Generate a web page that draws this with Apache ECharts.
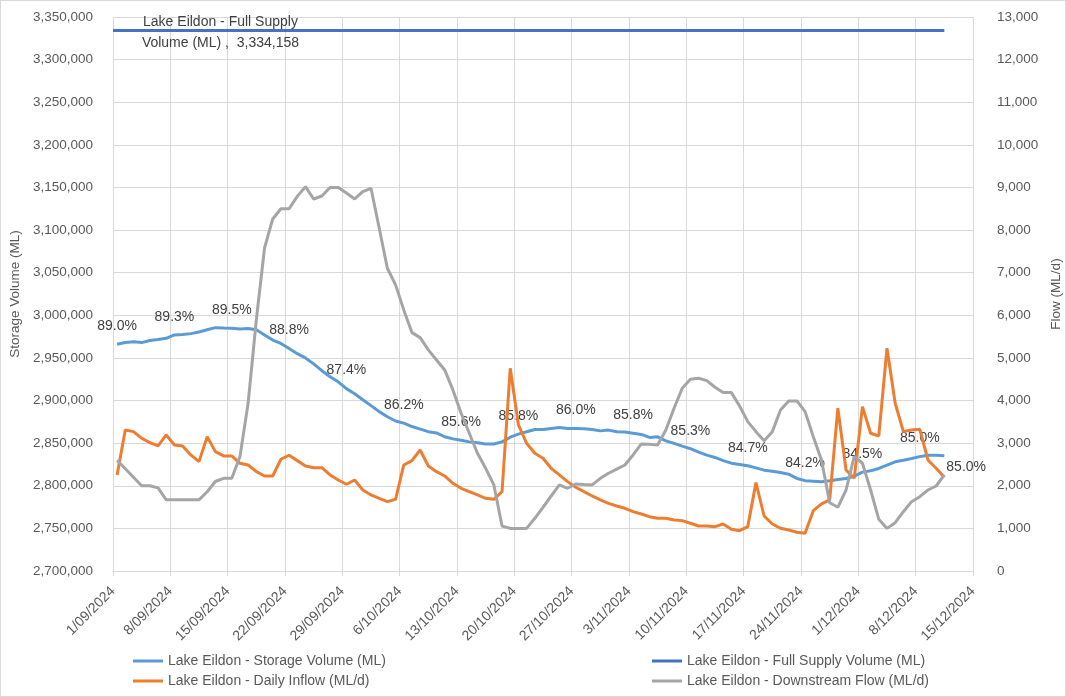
<!DOCTYPE html>
<html>
<head>
<meta charset="utf-8">
<script src="https://cdn.jsdelivr.net/npm/echarts@6/dist/echarts.min.js"></script>
<style>
html,body{margin:0;padding:0;background:#fff;}
#chart{width:1066px;height:697px;box-sizing:border-box;border:1px solid #d9d9d9;}
</style>
</head>
<body>
<div id="chart"></div>
<script>
// ---- DATA ----
const startDate = '2024-09-01';   // axis start (day 0)
const axisDays = 105;             // axis end: 15/12/2024
const tickDays = 7;               // weekly ticks
const readingHour = 12;           // daily readings taken at 12:00, first reading 1/09/2024
const FSV = 3334158;
const storage = [
2966000,2968000,2969000,2968000,2970500,2971500,2973000,2977000,2977500,2978500,
2980500,2983000,2985500,2985000,2984800,2984000,2984500,2983000,2977000,2971000,
2967000,2961000,2955000,2950000,2943000,2935000,2928000,2922000,2914000,2908000,
2901000,2894000,2887000,2881000,2876000,2873500,2869500,2866500,2863500,2862000,
2857500,2855000,2853500,2851500,2850500,2849000,2849000,2851500,2857000,2860600,
2863300,2866000,2866000,2867300,2868400,2867300,2867300,2866800,2866100,2864400,
2865300,2863300,2863000,2861500,2860200,2856700,2857400,2852700,2849700,2846500,
2843500,2839400,2835900,2833200,2829500,2826500,2825000,2823500,2821000,2818300,
2817100,2815600,2813600,2808600,2806000,2805400,2804600,2805800,2807400,2808600,
2811300,2816000,2817500,2820300,2824200,2828100,2830000,2832000,2834200,2835900,
2835900,2835100];
const inflow = [
2254,3310,3270,3115,3012,2934,3192,2958,2934,2723,
2566,3153,2801,2700,2700,2528,2488,2331,2230,2230,
2622,2716,2590,2465,2425,2425,2254,2136,2035,2136,
1900,1784,1706,1627,1683,2488,2590,2840,2465,2331,
2230,2058,1941,1862,1784,1706,1683,1862,4758,3427,
2997,2762,2645,2410,2254,2097,1965,1862,1761,1667,
1588,1526,1471,1392,1338,1275,1237,1237,1197,1182,
1120,1056,1056,1041,1103,978,946,1041,2074,1291,
1103,1001,962,908,884,1415,1573,1667,3819,2371,
2175,3857,3232,3169,5227,3937,3270,3310,3325,2606,
2410,2199];
const downstream = [
2600,2400,2200,2000,2000,1950,1670,1670,1670,1670,
1670,1860,2100,2175,2175,2680,3940,5890,7580,8260,
8500,8500,8790,9020,8730,8800,9000,9000,8870,8730,
8900,8980,8050,7105,6714,6127,5594,5477,5188,4953,
4718,4249,3701,3232,2762,2410,2019,1056,1000,1000,
1000,1237,1495,1760,2019,1941,2042,2030,2019,2175,
2293,2390,2488,2723,2981,2975,2958,3310,3819,4288,
4499,4523,4467,4312,4186,4186,3873,3505,3270,3059,
3270,3779,3991,3991,3740,3153,2606,1603,1495,1901,
2690,2528,1901,1213,1000,1134,1392,1627,1744,1901,
1995,2254];
const labelDays = [0,7,14,21,28,35,42,49,56,63,70,77,84,91,98,101];
const fsvLabelDay = 13;
const seriesNames = ['Lake Eildon - Storage Volume (ML)','Lake Eildon - Full Supply Volume (ML)','Lake Eildon - Daily Inflow (ML/d)','Lake Eildon - Downstream Flow (ML/d)'];

// ---- helpers ----
const DAY = 86400000;
const t0 = Date.parse(startDate + 'T00:00:00Z');
const dayLabel = d => {
  const dt = new Date(t0 + Math.round(d) * DAY);
  return dt.getUTCDate() + '/' + String(dt.getUTCMonth()+1).padStart(2,'0') + '/' + dt.getUTCFullYear();
};
const readingTime = i => i + readingHour / 24;   // days since axis start
const lastDay = storage.length - 1;
const fmt = v => Number(v).toLocaleString('en-US');
const FONT = 'Liberation Sans, Arial, sans-serif';
const TXT = '#595959';

const storageData = storage.map((v,i) => {
  if (!labelDays.includes(i)) return [readingTime(i), v];
  const isLast = i === lastDay;
  return {value: [readingTime(i), v], label: {
    show: true,
    formatter: (v/FSV*100).toFixed(1) + '%',
    position: isLast ? 'right' : 'top',
    distance: isLast ? 2 : 11,
    offset: isLast ? [0, 11] : [0, 0],
    color: '#404040', fontSize: 14, fontFamily: FONT
  }};
});
const inflowData = inflow.map((v,i) => [readingTime(i), v]);
const downstreamData = downstream.map((v,i) => [readingTime(i), v]);

const legendCommon = {orient: 'vertical', itemGap: 6, itemWidth: 30, itemHeight: 3, icon: 'rect', padding: 0,
  textStyle: {color: TXT, fontSize: 14, fontFamily: FONT}};

const chart = echarts.init(document.getElementById('chart'), null, {renderer:'canvas'});
chart.setOption({
  animation: false,
  backgroundColor: '#fff',
  textStyle: {fontFamily: FONT},
  grid: {left: 112, right: 92, top: 16, bottom: 125, containLabel: false, outerBoundsMode: 'none'},
  legend: [
    Object.assign({left: 132, top: 653, data: [seriesNames[0], seriesNames[2]]}, legendCommon),
    Object.assign({left: 651, top: 653, data: [seriesNames[1], seriesNames[3]]}, legendCommon)
  ],
  xAxis: {
    type: 'value', min: 0, max: axisDays, interval: tickDays,
    axisLine: {show: true, lineStyle: {color: '#d9d9d9'}},
    axisTick: {show: true, length: 5, lineStyle: {color: '#d9d9d9'}},
    axisLabel: {rotate: 45, color: TXT, fontSize: 14, fontFamily: FONT, margin: 18,
      formatter: v => dayLabel(v), showMinLabel: true, showMaxLabel: true},
    splitLine: {show: true, lineStyle: {color: '#d9d9d9'}}
  },
  yAxis: [
    {type: 'value', min: 2700000, max: 3350000, interval: 50000, position: 'left',
     name: 'Storage Volume (ML)', nameLocation: 'middle', nameGap: 83, nameRotate: 90,
     nameTextStyle: {color: TXT, fontSize: 13.5, fontFamily: FONT},
     axisLine: {show: false}, axisTick: {show: false},
     axisLabel: {color: TXT, fontSize: 13.5, fontFamily: FONT, formatter: fmt, margin: 20},
     splitLine: {show: true, lineStyle: {color: '#d9d9d9'}}},
    {type: 'value', min: 0, max: 13000, interval: 1000, position: 'right',
     name: 'Flow (ML/d)', nameLocation: 'middle', nameGap: 62, nameRotate: 90,
     nameTextStyle: {color: TXT, fontSize: 13.5, fontFamily: FONT},
     axisLine: {show: false}, axisTick: {show: false},
     axisLabel: {color: TXT, fontSize: 13.5, fontFamily: FONT, formatter: fmt, margin: 24},
     splitLine: {show: false}}
  ],
  series: [
    {name: seriesNames[0], type: 'line', yAxisIndex: 0, data: storageData,
     symbol: 'circle', symbolSize: 0, showSymbol: true, showAllSymbol: true,
     color: '#5B9BD5', lineStyle: {width: 3, color: '#5B9BD5'}, z: 2},
    {name: seriesNames[1], type: 'line', yAxisIndex: 0, data: [],
     color: '#4472C4', lineStyle: {width: 3, color: '#4472C4'}, z: 2,
     markLine: {silent: true, symbol: ['none','none'], label: {show: false},
       lineStyle: {type: 'solid', width: 3, color: '#4472C4'},
       data: [[{coord: [0, FSV]}, {coord: [readingTime(lastDay), FSV]}]]},
     markPoint: {silent: true, symbol: 'circle', symbolSize: 0,
       data: [{coord: [fsvLabelDay, FSV]}],
       label: {show: true, position: 'inside', offset: [1, 2],
         formatter: 'Lake Eildon - Full Supply\nVolume (ML) ,  ' + fmt(FSV),
         color: '#404040', fontSize: 14, fontFamily: FONT, lineHeight: 21, align: 'center'}}},
    {name: seriesNames[2], type: 'line', yAxisIndex: 1, data: inflowData,
     showSymbol: false, color: '#ED7D31', lineStyle: {width: 3, color: '#ED7D31'}, z: 3},
    {name: seriesNames[3], type: 'line', yAxisIndex: 1, data: downstreamData,
     showSymbol: false, color: '#A5A5A5', lineStyle: {width: 3, color: '#A5A5A5'}, z: 4}
  ]
});
</script>
</body>
</html>
